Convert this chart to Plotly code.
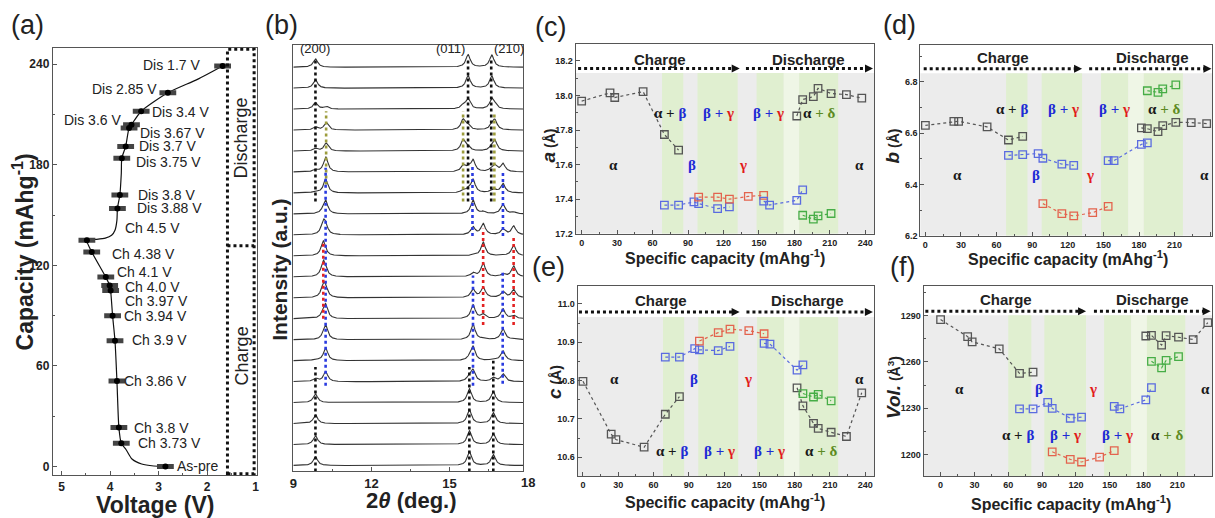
import numpy as np
import plotly.graph_objects as go

W, H = 1215, 518
FONT = "Liberation Sans, Arial, sans-serif"
SERIF = "Liberation Serif, Times New Roman, serif"

# ---------------- Panel (a): voltage profile ----------------
pt_labels = ["As-pre", "Ch 3.73 V", "Ch 3.8 V", "Ch 3.86 V", "Ch 3.9 V", "Ch 3.94 V", "Ch 3.97 V",
             "Ch 4.0 V", "Ch 4.1 V", "Ch 4.38 V", "Ch 4.5 V", "Dis 3.88 V", "Dis 3.8 V", "Dis 3.75 V",
             "Dis 3.7 V", "Dis 3.67 V", "Dis 3.6 V", "Dis 3.4 V", "Dis 2.85 V", "Dis 1.7 V"]
pt_voltage = [2.86, 3.77, 3.82, 3.86, 3.90, 3.95, 3.99, 4.01, 4.09, 4.38, 4.48,
              3.85, 3.80, 3.76, 3.68, 3.61, 3.56, 3.36, 2.81, 1.68]
pt_capacity = [0, 13.8, 23.3, 51, 75, 90, 105, 108, 113, 128, 135,
               154, 162, 184, 191, 202, 204, 212, 223, 239]
curve_voltage = [2.86, 3.1, 3.35, 3.55, 3.67, 3.77, 3.82, 3.86, 3.90, 3.95, 3.99, 4.01, 4.09, 4.38, 4.48,
                 4.30, 4.10, 3.97, 3.90, 3.86, 3.85, 3.80, 3.77, 3.76, 3.68, 3.61, 3.56, 3.36, 2.81, 2.2, 1.68]
curve_capacity = [0, 0.3, 1.5, 4.5, 10, 13.8, 23.3, 51, 75, 90, 105, 108, 113, 128, 135,
                  135.5, 136.3, 138, 141, 147, 154, 162, 175, 184, 191, 202, 204, 212, 223, 231, 239]
# label placement (side, x shift px, y shift px) - styling only
label_place = [("r", 10, 0), ("r", 15, 0), ("r", 13, -1), ("r", 5, 0), ("r", 15, 1), ("r", 9, 0),
               ("r", 12, -10), ("r", 13, -2), ("r", 9, 5), ("r", 18, -2), ("r", 36, 12), ("r", 18, 0),
               ("r", 16, 0), ("r", 12, -4), ("r", 11, 0), ("r", 9, -5), ("l", -8, 5), ("r", 9, -1),
               ("l", -9, 4), ("l", -21, 1)]

# ---------------- Panel (b): XRD patterns (bottom = As-pre -> top = Dis 1.7 V) ----------------
two_theta_range = [9.0, 17.82]
phase_names = ["alpha", "beta", "gamma", "alpha_d", "delta"]
peak_pos = {"alpha": [9.85, 15.76, 16.68], "beta": [10.24, 15.90, 17.05], "gamma": [10.15, 16.29, 17.46],
            "alpha_d": [9.85, 15.71, 16.62], "delta": [10.26, 15.52, 16.74]}
peak_height = {"alpha": [0.42, 0.66, 0.52], "beta": [0.68, 0.74, 0.52], "gamma": [0.70, 0.66, 0.52],
               "alpha_d": [0.40, 0.60, 0.58], "delta": [0.42, 0.58, 0.52]}
phase_weight = {
    "alpha":   [1, 1, 1, 1, 0.35, 0.15, 0, 0, 0, 0, 0, 0, 0, 0, 0, 0, 0, 0, 0, 0],
    "beta":    [0, 0, 0, 0, 0.7, 0.9, 1, 0.9, 0.55, 0.25, 0.05, 0.5, 0.9, 0.85, 0.75, 0, 0, 0, 0, 0],
    "gamma":   [0, 0, 0, 0, 0, 0, 0.1, 0.3, 0.75, 1, 1, 0.8, 0.15, 0, 0, 0, 0, 0, 0, 0],
    "alpha_d": [0, 0, 0, 0, 0, 0, 0, 0, 0, 0, 0, 0, 0, 0.2, 0.25, 0.3, 0.35, 0.8, 1, 1],
    "delta":   [0, 0, 0, 0, 0, 0, 0, 0, 0, 0, 0, 0, 0, 0.2, 0.5, 0.9, 0.85, 0.3, 0, 0],
}
peak_hwhm = 0.1
n_patterns = 20
guide_x = [9.85, 15.76, 16.68, 9.85, 15.71, 16.60, 10.26, 15.52, 16.72, 10.24, 15.88, 15.90,
           17.05, 17.04, 10.15, 16.29, 17.46]
guide_y0 = [-0.28, -0.28, -0.28, 12.6, 12.6, 12.6, 13.4, 12.6, 12.6, 3.8, 10.95, 3.8, 10.95, 3.9, 7.0, 6.7, 6.7]
guide_y1 = [4.7, 4.7, 5.0, 19.4, 19.35, 19.35, 16.9, 16.9, 16.8, 14.2, 14.3, 9.06, 14.0, 9.2, 10.7, 11.3, 11.0]
guide_phase = ["k", "k", "k", "k", "k", "k", "o", "o", "o", "b", "b", "b", "b", "b", "r", "r", "r"]
hkl_labels = ["(200)", "(011)", "(210)"]
hkl_x = [9.85, 15.03, 17.28]

# ---------------- Panels (c)-(f): lattice parameters ----------------
cap_ch_alpha = [0, 24, 28, 52, 70, 82]
cap_ch_beta = [70, 82, 95, 99, 115, 125]
cap_gamma = [99, 115, 125, 141, 154]
cap_dis_beta = [154, 159, 182, 187]
cap_dis_alpha = [182, 187, 196, 200, 211, 224, 237]
cap_delta = [187, 196, 200, 211]

a_ch_alpha = [17.967, 18.015, 17.988, 18.022, 17.774, 17.684]
a_ch_beta = [17.366, 17.366, 17.384, 17.374, 17.345, 17.355]
a_gamma = [17.412, 17.412, 17.400, 17.416, 17.422]
a_dis_beta = [17.389, 17.366, 17.393, 17.454]
a_dis_alpha = [17.881, 17.976, 17.993, 18.041, 18.011, 18.005, 17.984]
a_delta = [17.307, 17.284, 17.303, 17.317]

b_ch_alpha = [6.630, 6.646, 6.646, 6.624, 6.573, 6.587]
b_ch_beta = [6.513, 6.516, 6.520, 6.502, 6.479, 6.474]
b_gamma = [6.325, 6.286, 6.277, 6.290, 6.314]
b_dis_beta = [6.493, 6.493, 6.556, 6.562]
b_dis_alpha = [6.620, 6.617, 6.606, 6.629, 6.642, 6.641, 6.637]
b_delta = [6.765, 6.759, 6.772, 6.788]

c_ch_alpha = [10.798, 10.660, 10.646, 10.626, 10.712, 10.758]
c_ch_beta = [10.861, 10.861, 10.883, 10.880, 10.878, 10.889]
c_gamma = [10.903, 10.925, 10.934, 10.930, 10.922]
c_dis_beta = [10.897, 10.895, 10.827, 10.841]
c_dis_alpha = [10.781, 10.734, 10.688, 10.675, 10.665, 10.654, 10.768]
c_delta = [10.766, 10.757, 10.764, 10.747]

v_ch_alpha = [1287.4, 1276.4, 1273.0, 1268.5, 1252.6, 1253.4]
v_ch_beta = [1229.6, 1229.6, 1233.8, 1230.0, 1223.6, 1224.3]
v_gamma = [1201.9, 1197.0, 1195.3, 1198.5, 1202.6]
v_dis_beta = [1231.3, 1229.6, 1235.5, 1243.4]
v_dis_alpha = [1276.8, 1277.2, 1270.9, 1277.0, 1276.0, 1274.5, 1285.5]
v_delta = [1260.4, 1256.2, 1261.0, 1263.4]

# two-phase regions (capacity ranges) per panel
regions_cde = [(68, 86), (98, 132), (148, 171), (171, 184), (184, 217)]
regions_f = [(60, 80.5), (92, 129), (145, 169), (169, 183), (183, 217)]

# ---------------- helpers ----------------
def dx(l, r):
    return [l / W, r / W]

def dy(t, b):
    return [1 - b / H, 1 - t / H]

def px(x):
    return x / W

def py(y):
    return 1 - y / H

def axis(dom, rng, size=9, **kw):
    d = dict(domain=dom, range=rng, showline=True, mirror=True, linecolor="#555", linewidth=1,
             ticks="inside", ticklen=4, tickwidth=1, tickcolor="#555", showgrid=False, zeroline=False,
             tickfont=dict(family=FONT, size=size, color="#222", weight="bold"), fixedrange=True)
    d.update(kw)
    return d

def paper_text(x, y, text, size, bold=True, angle=0):
    return dict(x=px(x), y=py(y), xref="paper", yref="paper", text=text, textangle=angle,
                showarrow=False, xanchor="center", yanchor="middle",
                font=dict(family=FONT, size=size, color="#222", weight="bold" if bold else "normal"))

fig = go.Figure()
annotations = []
shapes = []

# ----- (a) -----
fig.add_trace(go.Scatter(x=curve_voltage, y=curve_capacity, mode="lines", xaxis="x", yaxis="y",
                         line=dict(color="#111", width=1.2, shape="spline", smoothing=0.6),
                         hoverinfo="skip", showlegend=False))
fig.add_trace(go.Scatter(x=pt_voltage, y=pt_capacity, mode="markers", xaxis="x", yaxis="y",
                         marker=dict(symbol="line-ew", size=12, color="#000", line=dict(width=5)),
                         showlegend=False))
fig.add_trace(go.Scatter(x=pt_voltage, y=pt_capacity, mode="markers", xaxis="x", yaxis="y",
                         marker=dict(symbol="circle", size=6, color="#000", line=dict(width=0)),
                         showlegend=False))
for lab, v, c, (side, xs, ys) in zip(pt_labels, pt_voltage, pt_capacity, label_place):
    annotations.append(dict(x=v, y=c, xref="x", yref="y", text=lab, showarrow=False,
                            xanchor="left" if side == "r" else "right", yanchor="middle",
                            xshift=xs, yshift=ys,
                            font=dict(family=FONT, size=14, color="#222")))
shapes.append(dict(type="rect", xref="x", yref="y", x0=1.58, x1=1.03, y0=-4.3, y1=249,
                   line=dict(color="#111", width=3, dash="dot")))
shapes.append(dict(type="line", xref="x", yref="y", x0=1.58, x1=1.03, y0=131.7, y1=131.7,
                   line=dict(color="#111", width=3, dash="dot")))
annotations.append(dict(x=1.29, y=196, xref="x", yref="y", text="Discharge", textangle=-90, showarrow=False,
                        xanchor="center", yanchor="middle",
                        font=dict(family=FONT, size=18, color="#222")))
annotations.append(dict(x=1.29, y=66, xref="x", yref="y", text="Charge", textangle=-90, showarrow=False,
                        xanchor="center", yanchor="middle",
                        font=dict(family=FONT, size=18, color="#222")))

# ----- (b) -----
tt = np.linspace(two_theta_range[0], two_theta_range[1], 1400)
for i in range(n_patterns):
    yv = np.full_like(tt, float(i))
    for name in phase_names:
        w = phase_weight[name][i]
        if w <= 0:
            continue
        for p, h in zip(peak_pos[name], peak_height[name]):
            yv = yv + w * h / (1.0 + ((tt - p) / peak_hwhm) ** 2)
    fig.add_trace(go.Scatter(x=tt, y=yv, mode="lines", xaxis="x2", yaxis="y2",
                             line=dict(color="#333", width=1.1), hoverinfo="skip", showlegend=False))
guide_colors = {"k": "#111111", "o": "#9c9c3c", "b": "#2a3be0", "r": "#e32222"}
for key, col in guide_colors.items():
    xs, ys = [], []
    for gx, g0, g1, gp in zip(guide_x, guide_y0, guide_y1, guide_phase):
        if gp == key:
            xs += [gx, gx, None]
            ys += [g0, g1, None]
    fig.add_trace(go.Scatter(x=xs, y=ys, mode="lines", xaxis="x2", yaxis="y2",
                             line=dict(color=col, width=2.6, dash="dot"), hoverinfo="skip", showlegend=False))
for lab, hx in zip(hkl_labels, hkl_x):
    annotations.append(dict(x=hx, y=19.9, xref="x2", yref="y2", text=lab, showarrow=False,
                            xanchor="center", yanchor="middle",
                            font=dict(family=FONT, size=13, color="#222")))
annotations.append(paper_text(527, 487, "18", 13))

# ----- (c)-(f) -----
COL_A, COL_B, COL_G, COL_D = "#555555", "#5a6be0", "#e3634e", "#46ad46"
TXT_A, TXT_B, TXT_G, TXT_D = "#1a1a1a", "#1d2bd6", "#e21b1b", "#5d8a22"
combo_txt = [
    f'<span style="color:{TXT_A}">α + </span><span style="color:{TXT_B}">β</span>',
    f'<span style="color:{TXT_B}">β + </span><span style="color:{TXT_G}">γ</span>',
    f'<span style="color:{TXT_B}">β + </span><span style="color:{TXT_G}">γ</span>',
    f'<span style="color:{TXT_A}">α</span><span style="color:{TXT_D}"> + δ</span>',
]
single_txt = [f'<span style="color:{TXT_A}">α</span>', f'<span style="color:{TXT_B}">β</span>',
              f'<span style="color:{TXT_G}">γ</span>', f'<span style="color:{TXT_A}">α</span>']

panels = [
    dict(ax="3", series=[a_ch_alpha, a_ch_beta, a_gamma, a_dis_beta, a_dis_alpha, a_delta],
         yr=[17.2, 18.30], gray=18.13, regions=regions_cde,
         combo_y=17.90, combo_x=[75, 116, 158, 201], single_y=17.60, single_x=[27, 93, 136.5, 235],
         head_y=18.21, charge_x=66, dis_x=191.5, arr_y=18.156, arr1=[-3, 133.7], arr2=[139, 246.5],
         ytitle='<i style="font-size:19px">a</i> (Å)', ytpos=(548, 147), xtpos=(725, 259)),
    dict(ax="4", series=[b_ch_alpha, b_ch_beta, b_gamma, b_dis_beta, b_dis_alpha, b_delta],
         yr=[6.2, 6.945], gray=6.833, regions=regions_cde,
         combo_y=6.695, combo_x=[73, 116, 159, 201], single_y=6.438, single_x=[27, 93, 139, 235],
         head_y=6.894, charge_x=65.7, dis_x=191.6, arr_y=6.851, arr1=[-1.4, 132], arr2=[138, 241],
         ytitle='<i style="font-size:19px">b</i> (Å)', ytpos=(894, 147), xtpos=(1070, 261)),
    dict(ax="5", series=[c_ch_alpha, c_ch_beta, c_gamma, c_dis_beta, c_dis_alpha, c_delta],
         yr=[10.55, 11.046], gray=10.966, regions=regions_cde,
         combo_y=10.617, combo_x=[75.5, 116, 158.6, 202], single_y=10.805, single_x=[27, 94, 140, 235],
         head_y=11.009, charge_x=66, dis_x=191, arr_y=10.979, arr1=[-3.4, 133.2], arr2=[139, 246.5],
         ytitle='<i style="font-size:19px">c</i> (Å)', ytpos=(553, 386), xtpos=(725, 506)),
    dict(ax="6", series=[v_ch_alpha, v_ch_beta, v_gamma, v_dis_beta, v_dis_alpha, v_delta],
         yr=[1186, 1309], gray=1290.2, regions=regions_f,
         combo_y=1212.5, combo_x=[69, 110.6, 157, 201], single_y=1242.3, single_x=[17, 87, 135, 235],
         head_y=1300.4, charge_x=58, dis_x=188, arr_y=1292.8, arr1=[-13.5, 129], arr2=[136, 239.5],
         ytitle='<i style="font-size:19px">Vol.</i> (Å<sup>3</sup>)', ytpos=(894, 391), xtpos=(1073, 508)),
]
series_x = [cap_ch_alpha, cap_ch_beta, cap_gamma, cap_dis_beta, cap_dis_alpha, cap_delta]
series_col = [COL_A, COL_B, COL_G, COL_B, COL_A, COL_D]

for p in panels:
    xa, ya = "x" + p["ax"], "y" + p["ax"]
    # backgrounds
    shapes.append(dict(type="rect", xref=xa + " domain", yref=ya, x0=0, x1=1, y0=p["yr"][0], y1=p["gray"],
                       fillcolor="#ececec", line=dict(width=0), layer="below"))
    for k, (r0, r1) in enumerate(p["regions"]):
        fc = "#eff6e6" if k == 3 else "#e0efd0"
        shapes.append(dict(type="rect", xref=xa, yref=ya, x0=r0, x1=r1, y0=p["yr"][0], y1=p["gray"],
                           fillcolor=fc, line=dict(width=0), layer="below"))
    for sx, sy, col in zip(series_x, p["series"], series_col):
        fig.add_trace(go.Scatter(x=sx, y=sy, mode="lines+markers", xaxis=xa, yaxis=ya,
                                 line=dict(color=col, width=1.2, dash="dot"),
                                 marker=dict(symbol="square-open", size=7.5, color=col, line=dict(width=1.3)),
                                 showlegend=False))
    for t, x in zip(combo_txt, p["combo_x"]):
        annotations.append(dict(x=x, y=p["combo_y"], xref=xa, yref=ya, text=t, showarrow=False,
                                xanchor="center", yanchor="middle",
                                font=dict(family=SERIF, size=15, weight="bold")))
    for t, x in zip(single_txt, p["single_x"]):
        annotations.append(dict(x=x, y=p["single_y"], xref=xa, yref=ya, text=t, showarrow=False,
                                xanchor="center", yanchor="middle",
                                font=dict(family=SERIF, size=15, weight="bold")))
    annotations.append(dict(x=p["charge_x"], y=p["head_y"], xref=xa, yref=ya, text="Charge", showarrow=False,
                            xanchor="center", yanchor="middle",
                            font=dict(family=FONT, size=15, color="#222", weight="bold")))
    annotations.append(dict(x=p["dis_x"], y=p["head_y"], xref=xa, yref=ya, text="Discharge", showarrow=False,
                            xanchor="center", yanchor="middle",
                            font=dict(family=FONT, size=15, color="#222", weight="bold")))
    for seg in (p["arr1"], p["arr2"]):
        shapes.append(dict(type="line", xref=xa, yref=ya, x0=seg[0], x1=seg[1] - 3, y0=p["arr_y"], y1=p["arr_y"],
                           line=dict(color="#111", width=3, dash="dot")))
        annotations.append(dict(x=seg[1], y=p["arr_y"], xref=xa, yref=ya, text="", showarrow=True,
                                ax=-9, ay=0, arrowhead=2, arrowsize=1, arrowwidth=1.6, arrowcolor="#111"))
    annotations.append(paper_text(p["ytpos"][0], p["ytpos"][1], p["ytitle"], 14, angle=-90))
    annotations.append(paper_text(p["xtpos"][0], p["xtpos"][1], "Specific capacity (mAhg<sup>-1</sup>)", 16))

# axis titles (a), (b)
annotations += [
    paper_text(19, 254, "Capacity (mAhg<sup>-1</sup>)", 23, angle=-90),
    paper_text(152, 510, "Voltage (V)", 23),
    paper_text(277, 272, "Intensity (a.u.)", 21, angle=-90),
    paper_text(410, 505, "2<i>θ</i> (deg.)", 22),
]
for lab, (cx, cy) in zip(["(a)", "(b)", "(c)", "(d)", "(e)", "(f)"],
                         [(24, 25), (279, 25), (550, 27), (901, 25), (548, 270), (904, 270)]):
    annotations.append(paper_text(cx, cy, lab, 27, bold=False))

minor_in = lambda d: dict(ticks="inside", ticklen=2, dtick=d, tickcolor="#555")

fig.update_layout(
    width=W, height=H, margin=dict(l=0, r=0, t=0, b=0), paper_bgcolor="white", plot_bgcolor="white",
    showlegend=False, shapes=shapes, annotations=annotations,
    xaxis=axis(dx(49, 254), [5.185, 0.98], size=12, anchor="y", tickvals=[5, 4, 3, 2, 1],
               minor=dict(ticks="inside", ticklen=2, tickvals=[4.5, 3.5, 2.5, 1.5], tickcolor="#555")),
    yaxis=axis(dy(48, 480), [-5.3, 250], size=12, anchor="x", tickvals=[0, 60, 120, 180, 240],
               minor=dict(ticks="inside", ticklen=2, tickvals=[30, 90, 150, 210], tickcolor="#555")),
    xaxis2=axis(dx(291, 522), two_theta_range, size=13, anchor="y2", tickvals=[9, 12, 15],
                minor=dict(ticks="inside", ticklen=2, tickvals=[10.5, 13.5, 16.5], tickcolor="#555")),
    yaxis2=axis(dy(45, 476), [-0.28, 20.08], anchor="x2", showticklabels=False, ticks=""),
    xaxis3=axis(dx(575, 875), [-5.05, 247.3], anchor="y3", tickvals=list(range(0, 241, 30)),
                minor=dict(ticks="inside", ticklen=2, tickvals=list(range(15, 241, 30)), tickcolor="#555")),
    yaxis3=axis(dy(44, 236), [17.2, 18.30], anchor="x3", tick0=17.2, dtick=0.2, tickformat=".1f",
                minor=minor_in(0.1)),
    xaxis4=axis(dx(921.7, 1215), [-4.2, 241.5], anchor="y4", tickvals=list(range(0, 241, 30)),
                minor=dict(ticks="inside", ticklen=2, tickvals=list(range(15, 241, 30)), tickcolor="#555")),
    yaxis4=axis(dy(45, 238), [6.2, 6.945], anchor="x4", tick0=6.2, dtick=0.2, tickformat=".1f",
                minor=minor_in(0.1)),
    xaxis5=axis(dx(577, 875), [-4.5, 247.4], anchor="y5", tickvals=list(range(0, 241, 30)),
                minor=dict(ticks="inside", ticklen=2, tickvals=list(range(15, 241, 30)), tickcolor="#555")),
    yaxis5=axis(dy(289, 481), [10.55, 11.046], anchor="x5", tickvals=[10.6, 10.7, 10.8, 10.9, 11.0],
                tickformat=".1f", minor=dict(ticks="inside", ticklen=2, tickvals=[10.65, 10.75, 10.85, 10.95],
                                             tickcolor="#555")),
    xaxis6=axis(dx(925, 1215), [-15, 240.7], anchor="y6", tickvals=list(range(0, 241, 30)),
                minor=dict(ticks="inside", ticklen=2, tickvals=list(range(15, 241, 30)), tickcolor="#555")),
    yaxis6=axis(dy(289, 481), [1186, 1309], anchor="x6", tickvals=[1200, 1230, 1260, 1290],
                minor=dict(ticks="inside", ticklen=2, tickvals=[1215, 1245, 1275, 1305], tickcolor="#555")),
)

fig.write_html("out.html")
